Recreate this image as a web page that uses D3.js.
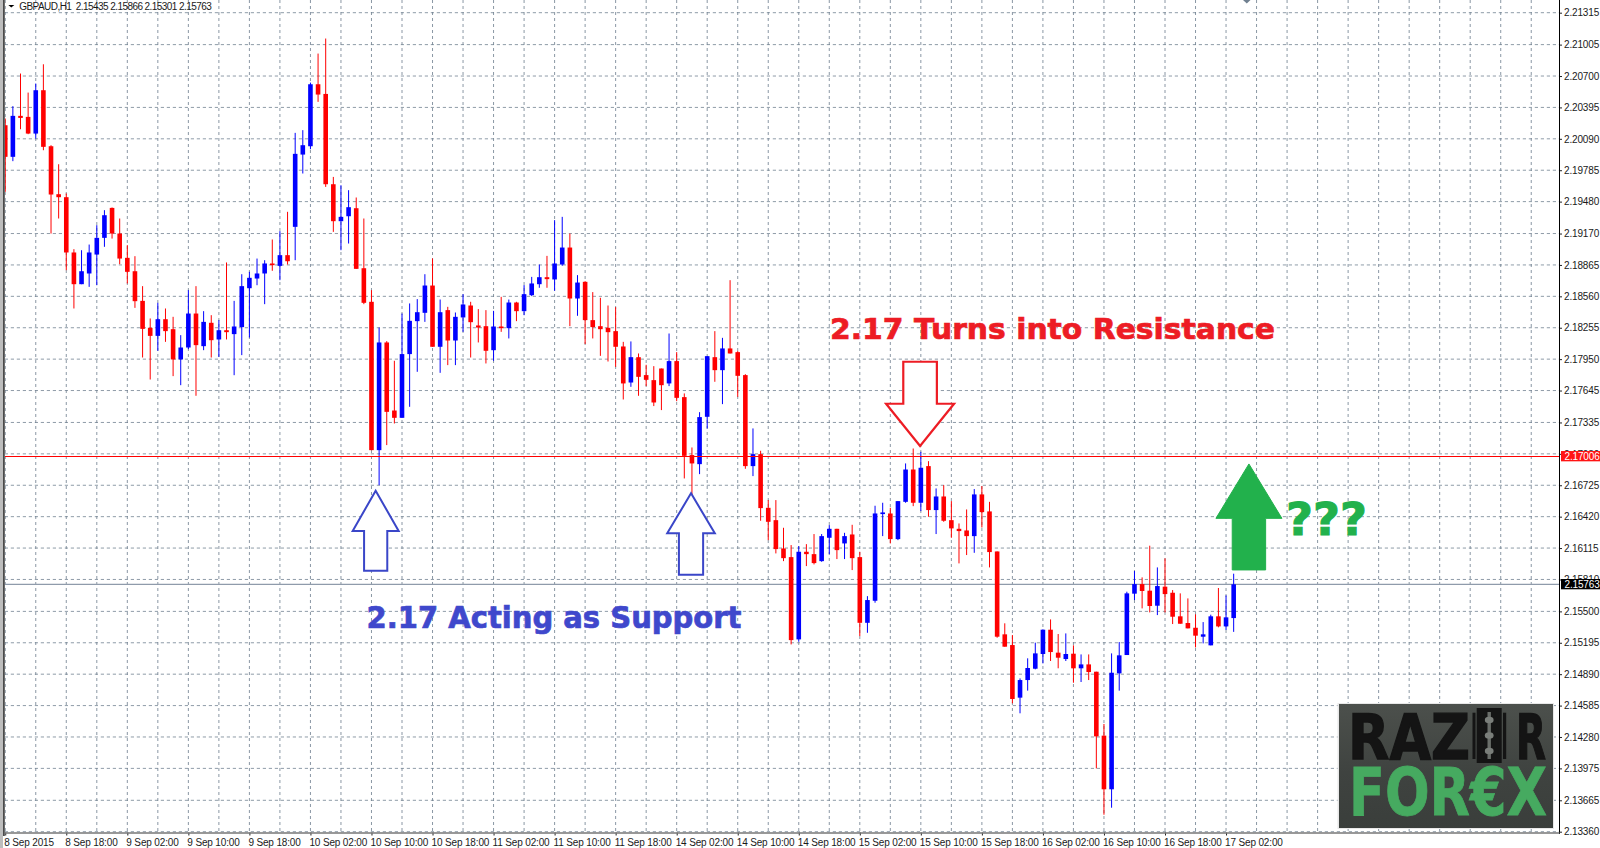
<!DOCTYPE html>
<html><head><meta charset="utf-8">
<style>
html,body{margin:0;padding:0;background:#fff;overflow:hidden}
svg{display:block}
.axis text{font-family:"Liberation Sans",Arial,sans-serif;font-size:10px;letter-spacing:-0.15px;fill:#1a1a1a}
</style>
<script src="https://cdn.jsdelivr.net/npm/d3@7/dist/d3.min.js"></script>
</head><body><svg id="c" width="1600" height="848"></svg>
<script>
const symbolTitle="GBPAUD,H1  2.15435 2.15866 2.15301 2.15763";
const opens=[2.20222,2.19915,2.20313,2.20303,2.20141,2.20562,2.20018,2.19552,2.19523,2.18986,
2.18678,2.18782,2.18966,2.19128,2.19419,2.19170,2.18934,2.18804,2.18516,2.18254,
2.18176,2.18338,2.18241,2.17947,2.18063,2.18393,2.18076,2.18303,2.18141,2.18231,
2.18193,2.18261,2.18639,2.18733,2.18782,2.18879,2.18856,2.18960,2.19235,2.19937,
2.20018,2.20620,2.20526,2.19649,2.19290,2.19338,2.19416,2.18833,2.18507,2.17066,
2.18112,2.17451,2.17380,2.17999,2.18319,2.18400,2.18665,2.18070,2.18426,2.18131,
2.18355,2.18471,2.18277,2.18270,2.18037,2.18267,2.18251,2.18500,2.18416,2.18571,
2.18678,2.18746,2.18724,2.18869,2.19034,2.18539,2.18701,2.18329,2.18270,2.18254,
2.18222,2.18073,2.17723,2.17969,2.17795,2.17746,2.17859,2.17714,2.17931,2.17581,
2.17018,2.16930,2.17390,2.17969,2.17843,2.18054,2.18018,2.17795,2.16911,2.17027,
2.16506,2.16386,2.16111,2.16027,2.15228,2.16079,2.16056,2.15988,2.16215,2.16302,
2.16160,2.16247,2.16027,2.15389,2.15603,2.16445,2.16451,2.16202,2.16564,2.16878,
2.16555,2.16911,2.16484,2.16616,2.16386,2.16302,2.16286,2.16231,2.16636,2.16471,
2.16082,2.15277,2.15173,2.14662,2.14833,2.14943,2.15086,2.15322,2.15099,2.15037,
2.15089,2.14947,2.14985,2.14914,2.14293,2.13772,2.14898,2.15076,2.15672,2.15765,
2.15701,2.15555,2.15740,2.15681,2.15452,2.15387,2.15341,2.15254,2.15170,2.15452,
2.15354,2.15435];
const highs=[2.20287,2.20407,2.20724,2.20539,2.20627,2.20814,2.20028,2.19843,2.19559,2.19018,
2.19008,2.19063,2.19251,2.19397,2.19423,2.19316,2.19057,2.18950,2.18659,2.18345,
2.18497,2.18442,2.18361,2.18183,2.18620,2.18659,2.18416,2.18377,2.18329,2.18889,
2.18516,2.18775,2.18798,2.18927,2.18911,2.19112,2.19193,2.19381,2.20148,2.20174,
2.20636,2.20918,2.21064,2.19720,2.19639,2.19591,2.19520,2.19316,2.18620,2.18257,
2.18125,2.17934,2.18393,2.18491,2.18533,2.18775,2.18928,2.18529,2.18458,2.18403,
2.18581,2.18507,2.18436,2.18426,2.18419,2.18555,2.18529,2.18507,2.18669,2.18749,
2.18869,2.18953,2.19300,2.19332,2.19170,2.18766,2.18707,2.18601,2.18546,2.18471,
2.18455,2.18118,2.18122,2.18005,2.17895,2.17882,2.17859,2.18199,2.18018,2.17617,
2.17092,2.17435,2.17979,2.18222,2.18157,2.18717,2.18028,2.17804,2.17277,2.17060,
2.16581,2.16581,2.16312,2.16144,2.16134,2.16153,2.16251,2.16251,2.16338,2.16302,
2.16263,2.16341,2.16079,2.15648,2.16526,2.16555,2.16506,2.16571,2.16937,2.17082,
2.17050,2.16959,2.16694,2.16726,2.16571,2.16354,2.16490,2.16688,2.16717,2.16564,
2.16082,2.15384,2.15270,2.14849,2.15044,2.15196,2.15325,2.15422,2.15280,2.15286,
2.15170,2.15082,2.15082,2.14914,2.14406,2.15092,2.15202,2.15691,2.15892,2.15830,
2.16138,2.15927,2.16015,2.15707,2.15675,2.15626,2.15471,2.15396,2.15468,2.15727,
2.15655,2.15866];
const lows=[2.19575,2.19873,2.20183,2.20135,2.20093,2.19979,2.19170,2.19316,2.18814,2.18442,
2.18678,2.18652,2.18668,2.19041,2.19121,2.18872,2.18685,2.18448,2.17966,2.17752,
2.18031,2.18118,2.17785,2.17697,2.18047,2.17594,2.18037,2.17966,2.17972,2.18141,
2.17794,2.17989,2.18160,2.18668,2.18484,2.18808,2.18717,2.18869,2.18911,2.19753,
2.19989,2.20449,2.19623,2.19186,2.19008,2.19073,2.18827,2.18484,2.17066,2.16726,
2.17115,2.17325,2.17380,2.17487,2.17827,2.18312,2.18070,2.17817,2.17892,2.17892,
2.18215,2.17966,2.18112,2.17908,2.17934,2.18215,2.18151,2.18319,2.18377,2.18562,
2.18643,2.18643,2.18614,2.18856,2.18270,2.18371,2.18096,2.18151,2.17982,2.17927,
2.17875,2.17558,2.17681,2.17594,2.17688,2.17494,2.17455,2.17688,2.17542,2.16791,
2.16629,2.16833,2.17277,2.17730,2.17513,2.18005,2.17584,2.16885,2.16814,2.16380,
2.16192,2.16063,2.15988,2.15179,2.15205,2.15940,2.15956,2.15982,2.16056,2.16008,
2.16008,2.15901,2.15260,2.15292,2.15584,2.16231,2.16160,2.16192,2.16555,2.16522,
2.16474,2.16419,2.16251,2.16370,2.16215,2.15966,2.16047,2.16069,2.16315,2.15927,
2.15244,2.15157,2.14607,2.14510,2.14730,2.14937,2.14995,2.15018,2.14947,2.15018,
2.14807,2.14814,2.14833,2.13975,2.13525,2.13593,2.14730,2.15076,2.15610,2.15529,
2.15490,2.15464,2.15490,2.15377,2.15380,2.15335,2.15150,2.15189,2.15170,2.15345,
2.15319,2.15301];
const closes=[2.19915,2.20313,2.20293,2.20141,2.20562,2.20012,2.19549,2.19523,2.18986,2.18678,
2.18804,2.18986,2.19128,2.19348,2.19170,2.18927,2.18798,2.18513,2.18244,2.18176,
2.18338,2.18222,2.17947,2.18063,2.18393,2.18086,2.18312,2.18134,2.18231,2.18212,
2.18267,2.18659,2.18740,2.18782,2.18879,2.18863,2.18960,2.18901,2.19944,2.20028,
2.20620,2.20520,2.19649,2.19290,2.19332,2.19426,2.18827,2.18497,2.17066,2.18112,
2.17438,2.17380,2.17999,2.18322,2.18406,2.18665,2.18070,2.18406,2.18131,2.18361,
2.18481,2.18309,2.18257,2.18031,2.18267,2.18251,2.18500,2.18416,2.18581,2.18685,
2.18746,2.18727,2.18879,2.19034,2.18539,2.18694,2.18329,2.18261,2.18241,2.18212,
2.18070,2.17714,2.17969,2.17778,2.17749,2.17529,2.17697,2.17931,2.17574,2.17011,
2.16937,2.17387,2.17979,2.17843,2.18054,2.18005,2.17788,2.16911,2.17027,2.16503,
2.16370,2.16105,2.16017,2.15221,2.16079,2.16056,2.15969,2.16231,2.16302,2.16095,
2.16231,2.16017,2.15389,2.15610,2.16451,2.16461,2.16202,2.16571,2.16878,2.16555,
2.16895,2.16484,2.16616,2.16380,2.16306,2.16280,2.16231,2.16636,2.16464,2.16076,
2.15254,2.15157,2.14649,2.14833,2.14950,2.15092,2.15322,2.15105,2.15050,2.15086,
2.14947,2.14985,2.14911,2.14286,2.13772,2.14904,2.15073,2.15675,2.15765,2.15698,
2.15552,2.15746,2.15668,2.15448,2.15380,2.15335,2.15264,2.15277,2.15452,2.15354,
2.15442,2.15763];
const priceTicks=[2.21315,2.21005,2.20700,2.20395,2.20090,2.19785,2.19480,2.19170,2.18865,2.18560,2.18255,2.17950,2.17645,2.17335,2.17030,2.16725,2.16420,2.16115,2.15810,2.15500,2.15195,2.14890,2.14585,2.14280,2.13975,2.13665,2.13360];
const timeLabels=["8 Sep 2015","8 Sep 18:00","9 Sep 02:00","9 Sep 10:00","9 Sep 18:00","10 Sep 02:00","10 Sep 10:00","10 Sep 18:00","11 Sep 02:00","11 Sep 10:00","11 Sep 18:00","14 Sep 02:00","14 Sep 10:00","14 Sep 18:00","15 Sep 02:00","15 Sep 10:00","15 Sep 18:00","16 Sep 02:00","16 Sep 10:00","16 Sep 18:00","17 Sep 02:00"];
const supportLevel=2.17006, lastClose=2.15763;

const svg=d3.select("#c");
const L=4.8,R=1559.5,T=0,B=833;
const x=d3.scaleLinear().domain([0,161]).range([5.24,5.24+7.63*161]);
const y=d3.scaleLinear().domain([2.21315,2.1336]).range([12.7,831.7]);
svg.append("defs").append("clipPath").attr("id","plot").append("rect").attr("x",L).attr("y",T).attr("width",R-L).attr("height",B-T);
const plot=svg.append("g").attr("clip-path","url(#plot)");

// grid
const gridCol="#708090";
const vIdx=d3.range(0,204,4);
plot.append("g").selectAll("line").data(vIdx).join("line")
 .attr("x1",d=>x(d)).attr("x2",d=>x(d)).attr("y1",T).attr("y2",B)
 .attr("stroke",gridCol).attr("stroke-width",1).attr("stroke-opacity",.82).attr("stroke-dasharray","3 3");
plot.append("g").selectAll("line").data(priceTicks).join("line")
 .attr("x1",L).attr("x2",R).attr("y1",d=>y(d)).attr("y2",d=>y(d))
 .attr("stroke",gridCol).attr("stroke-width",1).attr("stroke-opacity",.78).attr("stroke-dasharray","3.2 2.8");

// last-price line
plot.append("line").attr("x1",L).attr("x2",R).attr("y1",y(lastClose)).attr("y2",y(lastClose)).attr("stroke","#8f9bab").attr("stroke-width",1.3);

// candles
const idx=d3.range(opens.length);
const col=i=>closes[i]>opens[i]?"#0000ff":"#ff0000";
const c=plot.append("g");
c.selectAll("line").data(idx).join("line")
 .attr("x1",x).attr("x2",x).attr("y1",i=>y(highs[i])).attr("y2",i=>y(lows[i]))
 .attr("stroke",col).attr("stroke-width",1);
c.selectAll("rect").data(idx).join("rect")
 .attr("x",i=>x(i)-2.3).attr("width",4.6)
 .attr("y",i=>y(Math.max(opens[i],closes[i])))
 .attr("height",i=>Math.max(1.6,Math.abs(y(opens[i])-y(closes[i]))))
 .attr("fill",col);

// level line
plot.append("line").attr("x1",L).attr("x2",R).attr("y1",y(supportLevel)).attr("y2",y(supportLevel)).attr("stroke","#ff0000").attr("stroke-width",1).attr("shape-rendering","crispEdges");

// frame
svg.append("rect").attr("x",0).attr("y",0).attr("width",3).attr("height",848).attr("fill","#bdbdbd");
svg.append("rect").attr("x",3).attr("y",0).attr("width",1.8).attr("height",836).attr("fill","#4a4a4a");

// axes
const ax=svg.append("g").attr("class","axis").attr("transform",`translate(${R-0.5},0)`)
 .call(d3.axisRight(y).tickValues(priceTicks).tickFormat(d3.format(".5f")).tickSize(3).tickPadding(2));
ax.select(".domain").remove();
ax.selectAll("line").attr("stroke","#222");
svg.append("line").attr("x1",R).attr("x2",R).attr("y1",0).attr("y2",834).attr("stroke","#000").attr("stroke-width",1);

const tickIdx=timeLabels.map((d,i)=>i*8);
const bx=svg.append("g").attr("class","axis").attr("transform",`translate(0,${B-0.5})`)
 .call(d3.axisBottom(x).tickValues(tickIdx).tickFormat((d,i)=>timeLabels[i]).tickSize(3).tickPadding(3));
bx.select(".domain").remove();
bx.selectAll("line").attr("stroke","#222");
bx.selectAll("text").attr("text-anchor","start").attr("dx",-1.5);
svg.append("line").attr("x1",L).attr("x2",R).attr("y1",B).attr("y2",B).attr("stroke","#777").attr("stroke-width",1.3);

// price flags
const flags=[[supportLevel,"#ff1414"],[lastClose,"#000"]];
flags.forEach(([p,f])=>{
 svg.append("rect").attr("x",R+1.5).attr("y",y(p)-5.3).attr("width",40).attr("height",10.3).attr("fill",f);
 svg.append("text").attr("x",R+5).attr("y",y(p)+3.6).attr("font-family","Liberation Sans,Arial,sans-serif").attr("font-size",10).attr("letter-spacing",-0.15).attr("fill","#fff").text(d3.format(".5f")(p));
});

// header
svg.append("path").attr("d","M8.3 5H14.3L11.3 7.6Z").attr("fill","#000");
svg.append("text").attr("x",19.3).attr("y",10).attr("font-family","Liberation Sans,Arial,sans-serif").attr("font-size",10).attr("fill","#1a1a1a").style("white-space","pre").attr("textLength",192.5).text(symbolTitle);
svg.append("path").attr("d","M1243 0H1250.5L1246.8 3.5Z").attr("fill",gridCol);

// annotations: arrows anchored by [candle index, price] of their tip
const arrow=(ix,price,dir,headW,headH,shaftW,len,stroke,fill,sw)=>{
 const tx=x(ix),ty=y(price),s=dir;
 const pts=[[0,0],[-headW,s*headH],[-shaftW,s*headH],[-shaftW,s*len],[shaftW,s*len],[shaftW,s*headH],[headW,s*headH]];
 svg.append("path").attr("d",d3.line()(pts.map(p=>[tx+p[0],ty+p[1]]))+"Z")
  .attr("fill",fill).attr("stroke",stroke).attr("stroke-width",sw).attr("stroke-linejoin","miter");
};
const supportArrows=[[48.55,2.16672],[89.88,2.16647]];
arrow(supportArrows[0][0],supportArrows[0][1],1,23,40.3,11.6,80,"#3a46c8","#fff",2);
arrow(supportArrows[1][0],supportArrows[1][1],1,23.8,40,12.1,81.5,"#3a46c8","#fff",2);
arrow(119.9,2.17106,-1,34,42.3,16.8,84.3,"#ed1c24","#fff",2.2);
arrow(163,2.16932,1,33,54.4,16.7,106,"#22b14c","#22b14c",1);

const bold="'DejaVu Sans',Verdana,sans-serif";
const lab=(t,xx,yy,fs,w,fill,sw)=>svg.append("text").attr("x",xx).attr("y",yy).attr("font-family",bold).attr("font-weight",700).attr("font-size",fs).attr("fill",fill).attr("stroke",fill).attr("stroke-width",sw).attr("textLength",w).attr("lengthAdjust","spacingAndGlyphs").text(t);
lab("2.17 Acting as Support",366.5,628,29.5,375,"#3f48cc",.7);
lab("2.17 Turns into Resistance",830,339.3,29,445,"#ed1c24",.7);
lab("???",1286,535,45,81,"#22b14c",1);

// logo
const logo=svg.append("g");
const g=svg.select("defs").append("linearGradient").attr("id","lg").attr("x1",0).attr("y1",0).attr("x2",0).attr("y2",1);
g.append("stop").attr("offset",0).attr("stop-color","#4c504c");
g.append("stop").attr("offset",.55).attr("stop-color","#3f4340");
g.append("stop").attr("offset",1).attr("stop-color","#3a3e3b");
logo.append("rect").attr("x",1337.5).attr("y",703).attr("width",216.5).attr("height",126).attr("fill","#e8e8e8");
logo.append("rect").attr("x",1339).attr("y",704).attr("width",214).attr("height",124).attr("fill","url(#lg)");
const logoText=(t,xx,yy,fs,w,fill,sw)=>logo.append("text").attr("x",xx).attr("y",yy).attr("font-family","'DejaVu Sans',Arial,sans-serif").attr("font-weight",700).attr("font-size",fs).attr("fill",fill).attr("stroke",fill).attr("stroke-width",sw).attr("textLength",w).attr("lengthAdjust","spacingAndGlyphs").text(t);
logoText("RAZ",1348,759,63,122,"#141414",1.4);
logoText("R",1516,759,63,30,"#141414",1.4);
logoText("FOR€X",1349,814.5,66,198,"#46aa60",.8);
logo.append("rect").attr("x",1476.7).attr("y",708).attr("width",25).attr("height",55).attr("fill","#141414");
logo.append("rect").attr("x",1487.5).attr("y",712).attr("width",3.4).attr("height",47).attr("fill","#6a6e6a");
[720,735.5,751].forEach(cy=>logo.append("ellipse").attr("cx",1489.2).attr("cy",cy).attr("rx",4.4).attr("ry",3.2).attr("fill","#7a7e7a"));
logo.append("rect").attr("x",1472.5).attr("y",712.7).attr("width",3).attr("height",46.3).attr("fill","#141414");
logo.append("rect").attr("x",1503).attr("y",712.7).attr("width",3.2).attr("height",46.3).attr("fill","#141414");
</script></body></html>
